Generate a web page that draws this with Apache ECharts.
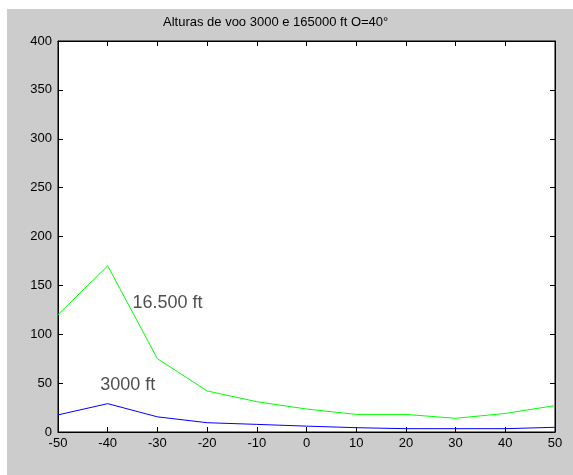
<!DOCTYPE html>
<html>
<head>
<meta charset="utf-8">
<script src="https://cdn.jsdelivr.net/npm/echarts@6/dist/echarts.min.js"></script>
<style>
html,body{margin:0;padding:0;background:#fff;}
#chart{width:573px;height:475px;}
</style>
</head>
<body>
<div id="chart"></div>
<script>
const angles = [-50, -40, -30, -20, -10, 0, 10, 20, 30, 40, 50];
const alt16500 = [120, 170, 75, 42, 31, 23.5, 18, 18, 14, 19, 27];
const alt3000 = [17.5, 29, 15.5, 9.5, 7.8, 6, 4.4, 3.4, 3.4, 3.4, 4.8];
const annotations = [
  { x: -35, y: 132, text: '16.500 ft' },
  { x: -41.5, y: 48, text: '3000 ft' }
];
const titleText = 'Alturas de voo 3000 e 165000 ft O=40°';

const font = 'Liberation Sans, Arial, sans-serif';
const chart = echarts.init(document.getElementById('chart'), null, { renderer: 'canvas' });

const xBase = { type: 'value', min: -50, max: 50, interval: 10 };
const yBase = { type: 'value', min: 0, max: 400, interval: 50 };
const lineStyle = { color: '#000', width: 1 };

chart.setOption({
  backgroundColor: '#ffffff',
  animation: false,
  graphic: [
    { type: 'rect', z: -10, silent: true, shape: { x: 7, y: 9, width: 566, height: 466 }, style: { fill: '#cccccc' } },
    { type: 'text', z: 10, left: 163, top: 16, style: { text: titleText, font: '13px ' + font, fill: '#000' } }
  ],
  grid: { left: 58, top: 41, right: 18, bottom: 43, show: true, backgroundColor: '#ffffff', borderColor: '#000', borderWidth: 1 },
  xAxis: [
    Object.assign({}, xBase, {
      position: 'bottom',
      axisLine: { show: true, onZero: false, lineStyle },
      axisTick: { show: true, inside: true, length: 5, lineStyle },
      axisLabel: { color: '#000', fontSize: 13, fontFamily: font, margin: 5 },
      splitLine: { show: false }
    }),
    Object.assign({}, xBase, {
      position: 'top',
      axisLine: { show: true, onZero: false, lineStyle },
      axisTick: { show: true, inside: true, length: 5, lineStyle },
      axisLabel: { show: false },
      splitLine: { show: false }
    })
  ],
  yAxis: [
    Object.assign({}, yBase, {
      position: 'left',
      axisLine: { show: true, onZero: false, lineStyle },
      axisTick: { show: true, inside: true, length: 5, lineStyle },
      axisLabel: { color: '#000', fontSize: 13, fontFamily: font, margin: 6 },
      splitLine: { show: false }
    }),
    Object.assign({}, yBase, {
      position: 'right',
      axisLine: { show: true, onZero: false, lineStyle },
      axisTick: { show: true, inside: true, length: 5, lineStyle },
      axisLabel: { show: false },
      splitLine: { show: false }
    })
  ],
  series: [
    {
      type: 'line', xAxisIndex: 0, yAxisIndex: 0,
      data: angles.map((a, i) => [a, alt16500[i]]),
      showSymbol: false, symbol: 'none',
      lineStyle: { color: '#00ff00', width: 1 }
    },
    {
      type: 'line', xAxisIndex: 0, yAxisIndex: 0,
      data: angles.map((a, i) => [a, alt3000[i]]),
      showSymbol: false, symbol: 'none',
      lineStyle: { color: '#0000ff', width: 1 }
    },
    {
      type: 'scatter', xAxisIndex: 0, yAxisIndex: 0,
      symbolSize: 0,
      data: annotations.map(a => ({ value: [a.x, a.y], name: a.text })),
      label: {
        show: true, position: 'right', distance: 0,
        formatter: p => p.name,
        color: '#222', fontSize: 18, fontFamily: font
      },
      silent: true
    }
  ]
});
</script>
</body>
</html>
